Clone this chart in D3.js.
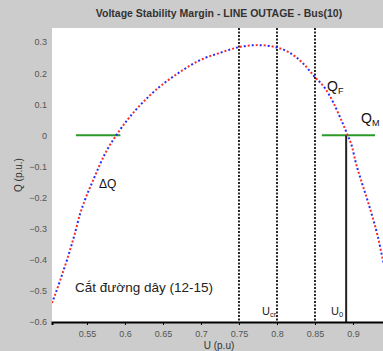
<!DOCTYPE html>
<html>
<head>
<meta charset="utf-8">
<script src="https://cdn.jsdelivr.net/npm/d3@7"></script>
<style>
  body { margin: 0; background: #cccccc; }
  svg { display: block; }
  text { font-family: "Liberation Sans", Arial, sans-serif; }
</style>
</head>
<body>
<svg width="383" height="351"></svg>
<script>
// Q-V curve
const voltage = [0.504, 0.5145, 0.534, 0.541, 0.547, 0.558, 0.574, 0.593, 0.633, 0.672, 0.699, 0.725, 0.751, 0.775, 0.797, 0.817, 0.834, 0.850, 0.863, 0.874, 0.883, 0.892, 0.899, 0.903, 0.912, 0.920, 0.926, 0.933, 0.939, 0.945];
const reactive = [-0.539, -0.468, -0.316, -0.252, -0.210, -0.145, -0.058, 0.016, 0.129, 0.203, 0.242, 0.265, 0.284, 0.290, 0.284, 0.265, 0.232, 0.187, 0.152, 0.106, 0.058, 0.006, -0.039, -0.081, -0.155, -0.216, -0.265, -0.329, -0.397, -0.46];

const xTicks = [0.55, 0.6, 0.65, 0.7, 0.75, 0.8, 0.85, 0.9];
const yTicks = [0.3, 0.2, 0.1, 0, -0.1, -0.2, -0.3, -0.4, -0.5, -0.6];
const dottedU = [0.75, 0.8, 0.85];
const uZero = 0.891;
const greenSegs = [[0.5355, 0.594], [0.859, 0.929]];

const svg = d3.select("svg");
const pLeft = 52, pTop = 28, pBottom = 322, pRight = 391;

const x = d3.scaleLinear().domain([0.504, 0.95]).range([pLeft, pRight]);
const y = d3.scaleLinear().domain([-0.6, 0.345]).range([pBottom, pTop]);

svg.append("rect")
  .attr("x", pLeft).attr("y", pTop)
  .attr("width", pRight - pLeft).attr("height", pBottom - pTop)
  .attr("fill", "#fff");

svg.append("clipPath").attr("id", "plot")
  .append("rect")
  .attr("x", pLeft).attr("y", pTop)
  .attr("width", pRight - pLeft).attr("height", pBottom - pTop);

const g = svg.append("g").attr("clip-path", "url(#plot)");

// vertical dotted guides
g.selectAll("line.guide")
  .data(dottedU)
  .enter()
  .append("line")
  .attr("class", "guide")
  .attr("x1", d => x(d)).attr("x2", d => x(d))
  .attr("y1", pTop).attr("y2", pBottom)
  .attr("stroke", "#111")
  .attr("stroke-width", 1.8)
  .attr("stroke-dasharray", "2,1.5");

// green horizontal marks at Q = 0
g.selectAll("line.green")
  .data(greenSegs)
  .enter()
  .append("line")
  .attr("x1", d => x(d[0])).attr("x2", d => x(d[1]))
  .attr("y1", y(0)).attr("y2", y(0))
  .attr("stroke", "#2a9a2a")
  .attr("stroke-width", 2);

// U0 line
g.append("line")
  .attr("x1", x(uZero)).attr("x2", x(uZero))
  .attr("y1", y(0)).attr("y2", pBottom)
  .attr("stroke", "#222")
  .attr("stroke-width", 2);

const pts = voltage.map((v, i) => [v, reactive[i]]);
const line = d3.line().x(d => x(d[0])).y(d => y(d[1])).curve(d3.curveMonotoneX);

g.append("path")
  .datum(pts)
  .attr("d", line)
  .attr("fill", "none")
  .attr("stroke", "#ff2a2a")
  .attr("stroke-width", 2)
  .attr("stroke-dasharray", "2,6");

g.append("path")
  .datum(pts)
  .attr("d", line)
  .attr("fill", "none")
  .attr("stroke", "#2a2aff")
  .attr("stroke-width", 2)
  .attr("stroke-dasharray", "2,6")
  .attr("stroke-dashoffset", 4);

// axes
const xAxis = d3.axisBottom(x).tickValues(xTicks).tickSize(3).tickFormat(d3.format(".2~f"));
const xg = svg.append("g").attr("transform", `translate(0,${pBottom})`).call(xAxis);
xg.select(".domain").attr("stroke", "#000").attr("stroke-width", 2);
xg.selectAll("text").attr("font-size", 9).attr("fill", "#555").attr("dy", "0.95em");

const yAxis = d3.axisLeft(y).tickValues(yTicks).tickSize(0).tickFormat(d3.format("~g"));
const yg = svg.append("g").attr("transform", `translate(${pLeft},0)`).call(yAxis);
yg.select(".domain").remove();
yg.selectAll("text").attr("font-size", 9).attr("fill", "#555").attr("x", -5);

// title and axis labels
svg.append("text")
  .attr("x", 219).attr("y", 17)
  .attr("text-anchor", "middle")
  .attr("font-size", 10.5)
  .attr("font-weight", "bold")
  .attr("fill", "#333")
  .text("Voltage Stability Margin - LINE OUTAGE - Bus(10)");

svg.append("text")
  .attr("x", 219).attr("y", 349)
  .attr("text-anchor", "middle")
  .attr("font-size", 10)
  .attr("fill", "#333")
  .text("U (p.u)");

svg.append("text")
  .attr("transform", "translate(22,175) rotate(-90)")
  .attr("text-anchor", "middle")
  .attr("font-size", 10)
  .attr("fill", "#333")
  .text("Q (p.u.)");

// annotations
svg.append("text")
  .attr("x", 99).attr("y", 188)
  .attr("font-size", 12).attr("fill", "#111")
  .text("ΔQ");

const qf = svg.append("text").attr("x", 327).attr("y", 91).attr("font-size", 14).attr("fill", "#111");
qf.append("tspan").text("Q");
qf.append("tspan").attr("font-size", 9).attr("dy", 3).text("F");

const qm = svg.append("text").attr("x", 361).attr("y", 123).attr("font-size", 14).attr("fill", "#111");
qm.append("tspan").text("Q");
qm.append("tspan").attr("font-size", 9).attr("dy", 3).text("M");

const ucr = svg.append("text").attr("x", 262).attr("y", 315).attr("font-size", 11).attr("fill", "#222");
ucr.append("tspan").text("U");
ucr.append("tspan").attr("font-size", 7.5).attr("dy", 2).text("cr");

const u0 = svg.append("text").attr("x", 331).attr("y", 315).attr("font-size", 11).attr("fill", "#222");
u0.append("tspan").text("U");
u0.append("tspan").attr("font-size", 7.5).attr("dy", 2).text("0");

svg.append("text")
  .attr("x", 75).attr("y", 292)
  .attr("font-size", 13.5)
  .attr("fill", "#222")
  .text("Cắt đường dây (12-15)");
</script>
</body>
</html>
